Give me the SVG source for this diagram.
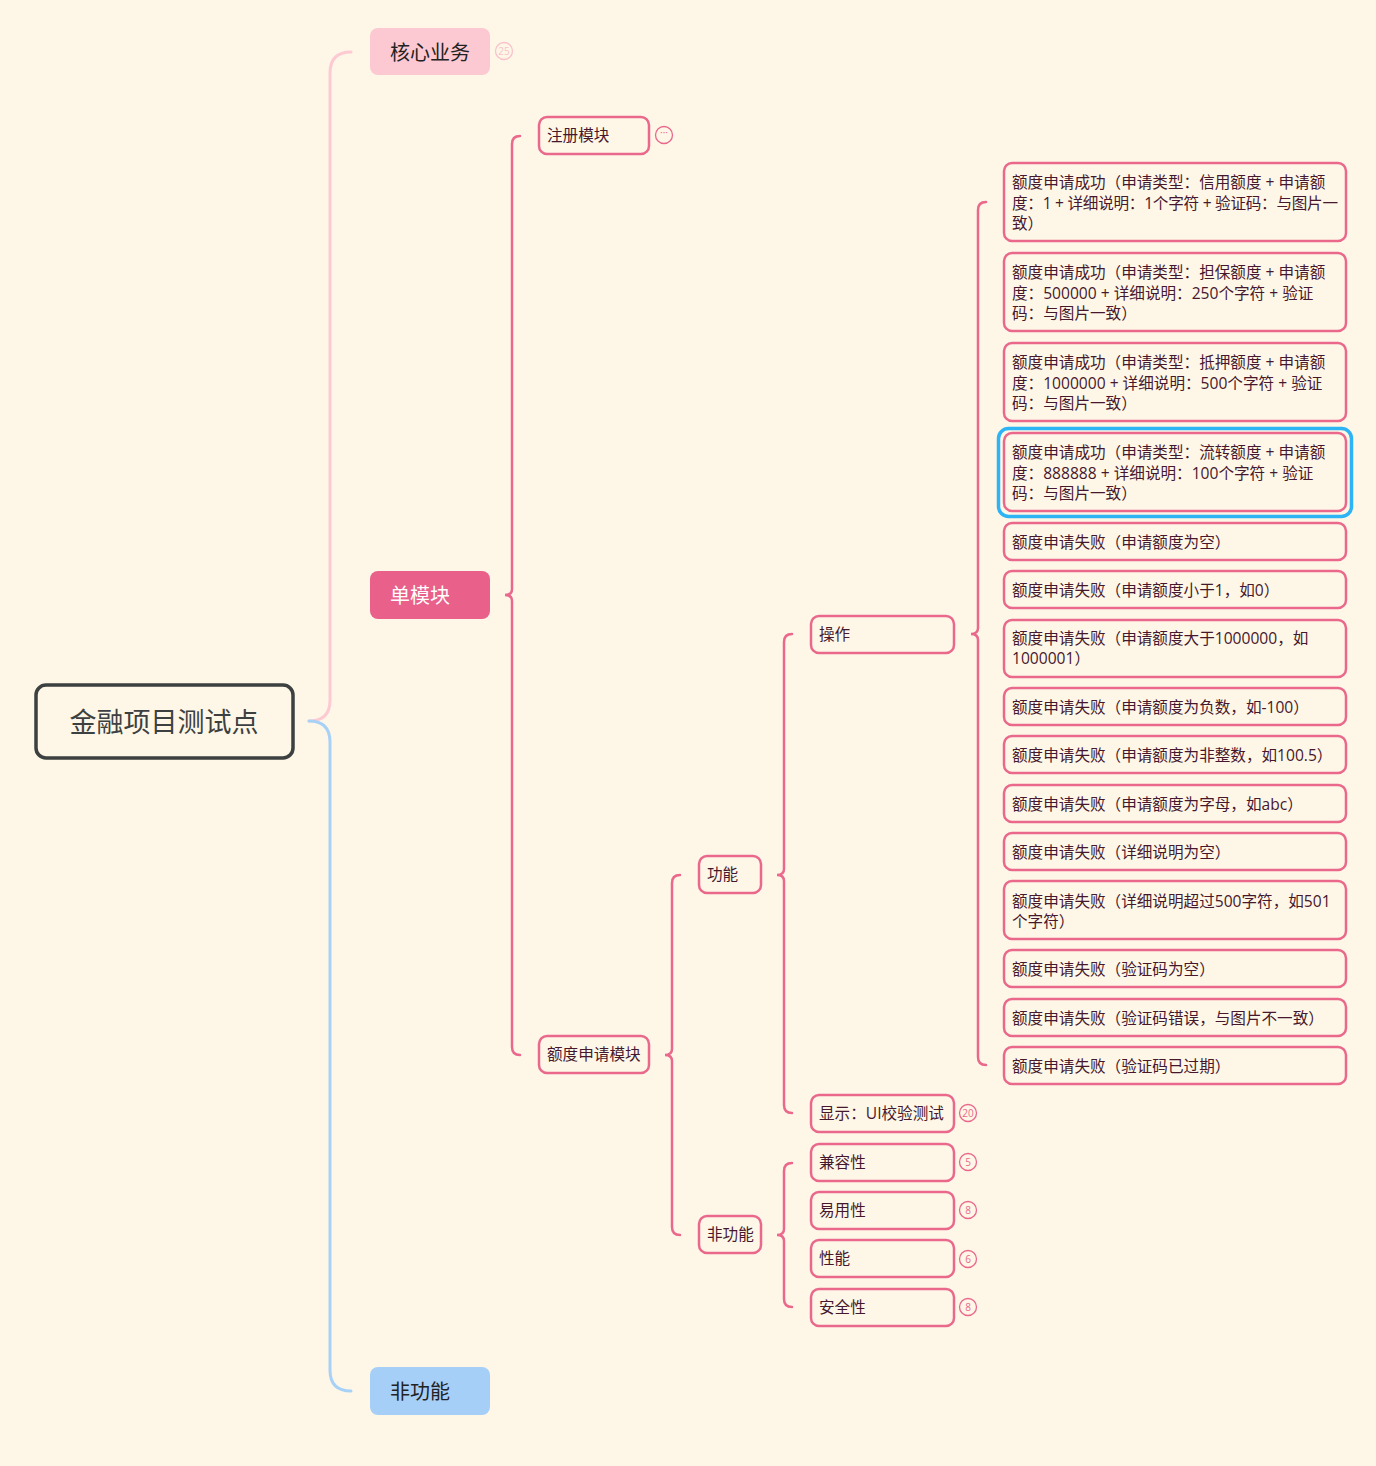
<svg xmlns="http://www.w3.org/2000/svg" width="1376" height="1466" viewBox="0 0 1376 1466">
<defs>
<style>
.bg{fill:#FEF7E7}
.t{font-family:"Open Sans","Noto Sans CJK SC",sans-serif;fill:#46182e;font-size:15.6px}
.n{fill:#FEF7E7;stroke:#E9688C;stroke-width:2.5}
.l{fill:none;stroke:#E9688C;stroke-width:2.5;stroke-linecap:round}
.b{fill:none;stroke:#E9688C;stroke-width:1.3}
.bt{font-family:"Open Sans","Liberation Sans",sans-serif;font-size:10px;fill:#E9688C;text-anchor:middle}
.big{font-family:"Noto Sans CJK SC","Noto Sans",sans-serif;font-size:20px}
</style>
</defs>
<rect class="bg" x="0" y="0" width="1376" height="1466"/>
<g id="connectors">
<path d="M351,52 Q330,52 330,73 L330,700 Q330,721 309,721" fill="none" stroke="#FDCAD3" stroke-width="3" stroke-linecap="round"/>
<path d="M309,721 Q330,721 330,742 L330,1370 Q330,1391 351,1391" fill="none" stroke="#A8D1F8" stroke-width="3" stroke-linecap="round"/>
<path class="l" d="M520,136 Q512,136 512,144 L512,589 Q512,595 505,595 Q512,595 512,601 L512,1047 Q512,1055 520,1055"/>
<path class="l" d="M680,875 Q672,875 672,883 L672,1049 Q672,1055 665,1055 Q672,1055 672,1061 L672,1227 Q672,1235 680,1235"/>
<path class="l" d="M792,634 Q784,634 784,642 L784,869 Q784,875 777,875 Q784,875 784,881 L784,1105 Q784,1113 792,1113"/>
<path class="l" d="M792,1163 Q784,1163 784,1171 L784,1229 Q784,1235 777,1235 Q784,1235 784,1241 L784,1299 Q784,1307 792,1307"/>
<path class="l" d="M986,202 Q978,202 978,210 L978,628 Q978,634 971,634 Q978,634 978,640 L978,1057 Q978,1065 986,1065"/>
</g>
<g id="root">
<rect x="36" y="685" width="257" height="73" rx="10" fill="#FEF7E7" stroke="#3d4040" stroke-width="3.5"/>
<text x="164" y="732" text-anchor="middle" font-family="Noto Sans CJK SC,Noto Sans,sans-serif" font-size="27" fill="#3d4040">金融项目测试点</text>
</g>
<g id="n-core">
<rect x="370" y="28" width="120" height="47" rx="8" fill="#FCC8D1"/>
<text class="big" x="390" y="60" fill="#222">核心业务</text>
<circle cx="504" cy="51" r="8.5" fill="none" stroke="#F8C2CB" stroke-width="1.3"/>
<text class="bt" x="504" y="54.5" style="fill:#F8C2CB">25</text>
</g>
<g id="n-single">
<rect x="370" y="571" width="120" height="48" rx="8" fill="#E9608A"/>
<text class="big" x="390" y="603" fill="#fff">单模块</text>
</g>
<g id="n-nonfunc">
<rect x="370" y="1367" width="120" height="48" rx="8" fill="#A6CFF8"/>
<text class="big" x="390" y="1399" fill="#222">非功能</text>
</g>
<g id="n-reg">
<rect class="n" x="539" y="117" width="110" height="37" rx="8"/>
<text class="t" x="547" y="141">注册模块</text>
<circle class="b" cx="664" cy="135" r="8.5"/>
<text class="bt" x="664" y="136">···</text>
</g>
<g id="n-quota">
<rect class="n" x="539" y="1036" width="110" height="37" rx="8"/>
<text class="t" x="547" y="1060">额度申请模块</text>
</g>
<g id="n-func">
<rect class="n" x="699" y="856" width="62" height="37" rx="8"/>
<text class="t" x="707" y="880">功能</text>
</g>
<g id="n-nf2">
<rect class="n" x="699" y="1216" width="62" height="37" rx="8"/>
<text class="t" x="707" y="1240">非功能</text>
</g>
<g id="n-op">
<rect class="n" x="811" y="616" width="143" height="37" rx="8"/>
<text class="t" x="819" y="640">操作</text>
</g>
<g id="n-ui">
<rect class="n" x="811" y="1095" width="143" height="37" rx="8"/>
<text class="t" x="819" y="1119">显示：UI校验测试</text>
<circle class="b" cx="968" cy="1113" r="8.5"/>
<text class="bt" x="968" y="1116.5">20</text>
</g>
<g id="n-compat">
<rect class="n" x="811" y="1144" width="143" height="37" rx="8"/>
<text class="t" x="819" y="1168">兼容性</text>
<circle class="b" cx="968" cy="1162" r="8.5"/>
<text class="bt" x="968" y="1165.5">5</text>
</g>
<g id="n-usab">
<rect class="n" x="811" y="1192" width="143" height="37" rx="8"/>
<text class="t" x="819" y="1216">易用性</text>
<circle class="b" cx="968" cy="1210" r="8.5"/>
<text class="bt" x="968" y="1213.5">8</text>
</g>
<g id="n-perf">
<rect class="n" x="811" y="1240" width="143" height="37" rx="8"/>
<text class="t" x="819" y="1264">性能</text>
<circle class="b" cx="968" cy="1259" r="8.5"/>
<text class="bt" x="968" y="1262.5">6</text>
</g>
<g id="n-sec">
<rect class="n" x="811" y="1289" width="143" height="37" rx="8"/>
<text class="t" x="819" y="1313">安全性</text>
<circle class="b" cx="968" cy="1307" r="8.5"/>
<text class="bt" x="968" y="1310.5">8</text>
</g>
<g id="leaf1">
<rect class="n" x="1004" y="163" width="342" height="78" rx="8"/>
<text class="t" x="1012" y="188">额度申请成功（申请类型：信用额度 + 申请额</text>
<text class="t" x="1012" y="209" textLength="326" lengthAdjust="spacing">度：1 + 详细说明：1个字符 + 验证码：与图片一</text>
<text class="t" x="1012" y="229">致）</text>
</g>
<g id="leaf2">
<rect class="n" x="1004" y="253" width="342" height="78" rx="8"/>
<text class="t" x="1012" y="278">额度申请成功（申请类型：担保额度 + 申请额</text>
<text class="t" x="1012" y="299">度：500000 + 详细说明：250个字符 + 验证</text>
<text class="t" x="1012" y="319">码：与图片一致）</text>
</g>
<g id="leaf3">
<rect class="n" x="1004" y="343" width="342" height="78" rx="8"/>
<text class="t" x="1012" y="368">额度申请成功（申请类型：抵押额度 + 申请额</text>
<text class="t" x="1012" y="389">度：1000000 + 详细说明：500个字符 + 验证</text>
<text class="t" x="1012" y="409">码：与图片一致）</text>
</g>
<g id="leaf4">
<rect x="998.5" y="428.5" width="353" height="88" rx="10" fill="none" stroke="#2DB4F4" stroke-width="3.5"/>
<rect class="n" x="1004" y="433" width="342" height="78" rx="8"/>
<text class="t" x="1012" y="458">额度申请成功（申请类型：流转额度 + 申请额</text>
<text class="t" x="1012" y="479">度：888888 + 详细说明：100个字符 + 验证</text>
<text class="t" x="1012" y="499">码：与图片一致）</text>
</g>
<g id="leaf5">
<rect class="n" x="1004" y="523" width="342" height="37" rx="8"/>
<text class="t" x="1012" y="548">额度申请失败（申请额度为空）</text>
</g>
<g id="leaf6">
<rect class="n" x="1004" y="571" width="342" height="37" rx="8"/>
<text class="t" x="1012" y="596">额度申请失败（申请额度小于1，如0）</text>
</g>
<g id="leaf7">
<rect class="n" x="1004" y="620" width="342" height="57" rx="8"/>
<text class="t" x="1012" y="644">额度申请失败（申请额度大于1000000，如</text>
<text class="t" x="1012" y="664">1000001）</text>
</g>
<g id="leaf8">
<rect class="n" x="1004" y="688" width="342" height="37" rx="8"/>
<text class="t" x="1012" y="713">额度申请失败（申请额度为负数，如-100）</text>
</g>
<g id="leaf9">
<rect class="n" x="1004" y="736" width="342" height="37" rx="8"/>
<text class="t" x="1012" y="761">额度申请失败（申请额度为非整数，如100.5）</text>
</g>
<g id="leaf10">
<rect class="n" x="1004" y="785" width="342" height="37" rx="8"/>
<text class="t" x="1012" y="810">额度申请失败（申请额度为字母，如abc）</text>
</g>
<g id="leaf11">
<rect class="n" x="1004" y="833" width="342" height="37" rx="8"/>
<text class="t" x="1012" y="858">额度申请失败（详细说明为空）</text>
</g>
<g id="leaf12">
<rect class="n" x="1004" y="881" width="342" height="58" rx="8"/>
<text class="t" x="1012" y="907">额度申请失败（详细说明超过500字符，如501</text>
<text class="t" x="1012" y="927">个字符）</text>
</g>
<g id="leaf13">
<rect class="n" x="1004" y="950" width="342" height="37" rx="8"/>
<text class="t" x="1012" y="975">额度申请失败（验证码为空）</text>
</g>
<g id="leaf14">
<rect class="n" x="1004" y="999" width="342" height="37" rx="8"/>
<text class="t" x="1012" y="1024">额度申请失败（验证码错误，与图片不一致）</text>
</g>
<g id="leaf15">
<rect class="n" x="1004" y="1047" width="342" height="37" rx="8"/>
<text class="t" x="1012" y="1072">额度申请失败（验证码已过期）</text>
</g>
</svg>
